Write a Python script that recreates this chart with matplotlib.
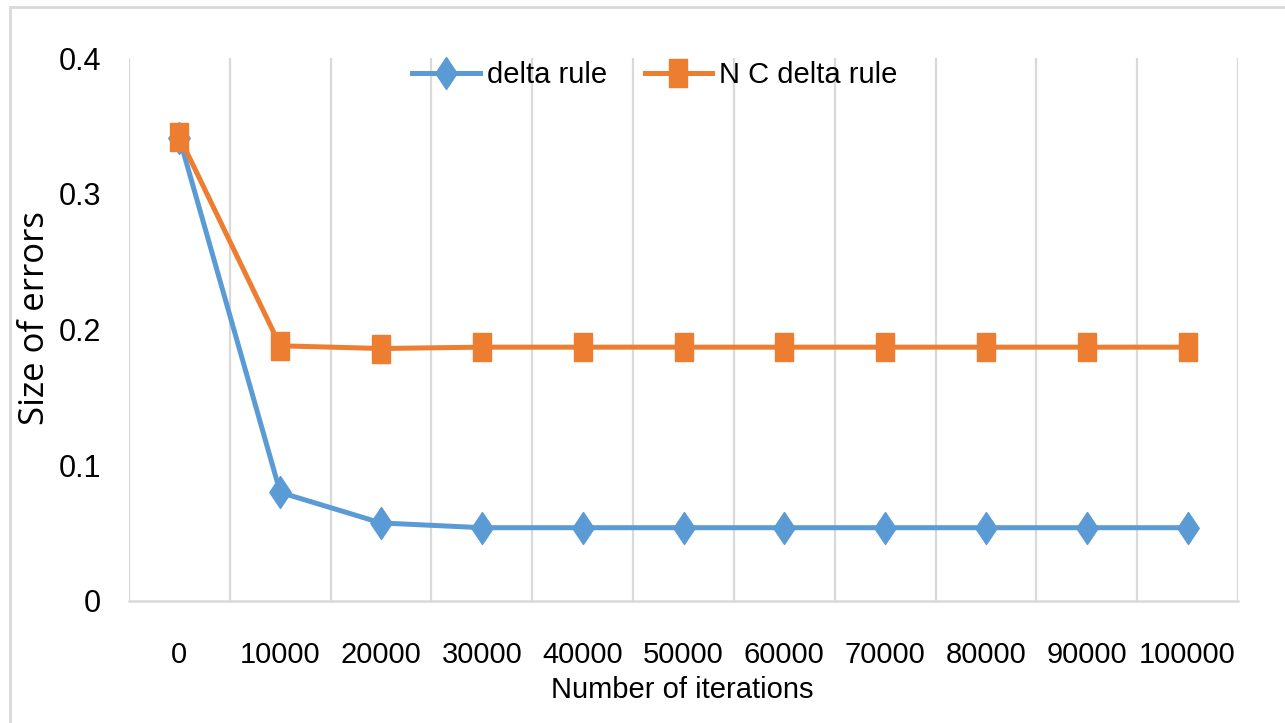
import matplotlib
matplotlib.use("Agg")
import matplotlib.pyplot as plt
from matplotlib.path import Path
from matplotlib.lines import Line2D

#----------------------------------------------------------------
# data:

iterations = ["0", "10000", "20000", "30000", "40000", "50000",
              "60000", "70000", "80000", "90000", "100000"]
delta_rule = [0.341, 0.080, 0.0575, 0.054, 0.054, 0.054,
              0.054, 0.054, 0.054, 0.054, 0.054]
nc_delta_rule = [0.342, 0.188, 0.186, 0.187, 0.187, 0.187,
                 0.187, 0.187, 0.187, 0.187, 0.187]
y_ticks = [0, 0.1, 0.2, 0.3, 0.4]
y_tick_labels = ["0", "0.1", "0.2", "0.3", "0.4"]

#----------------------------------------------------------------
# styles:

BLUE = "#5B9BD5"
ORANGE = "#ED7D31"
GRID = "#d9d9d9"
NARROW = ["Liberation Sans", "DejaVu Sans"]

# tall diamond and tall square, like the stretched Excel markers
tall_diamond = Path([(0, 1), (0.67, 0), (0, -1), (-0.67, 0), (0, 1)],
                    [Path.MOVETO, Path.LINETO, Path.LINETO, Path.LINETO, Path.CLOSEPOLY])
tall_square = Path([(-0.68, -1), (0.68, -1), (0.68, 1), (-0.68, 1), (-0.68, -1)],
                   [Path.MOVETO, Path.LINETO, Path.LINETO, Path.LINETO, Path.CLOSEPOLY])

#----------------------------------------------------------------
# figure:

fig = plt.figure(figsize=(12.85, 7.23), dpi=100)
ax = fig.add_axes([129 / 1285, 1 - 601 / 723, (1238 - 129) / 1285, (601 - 58) / 723])

x = list(range(len(iterations)))
ax.plot(x, delta_rule, color=BLUE, lw=3.6, marker=tall_diamond, ms=23,
        mec=BLUE, mfc=BLUE, label="delta rule", zorder=3)
ax.plot(x, nc_delta_rule, color=ORANGE, lw=3.6, marker=tall_square, ms=20,
        mec=ORANGE, mfc=ORANGE, label="N C delta rule", zorder=4)

ax.set_xlim(-0.5, len(iterations) - 0.5)
ax.set_ylim(0, 0.4)

# category labels in the middle, gridlines on the boundaries
ax.set_xticks(x)
ax.set_xticklabels(iterations, family=NARROW, fontsize=21)
ax.set_xticks([i - 0.5 for i in range(len(iterations) + 1)], minor=True)
ax.grid(which="minor", axis="x", color=GRID, lw=1.6)
ax.tick_params(axis="x", which="both", length=0, pad=29)

ax.set_yticks(y_ticks)
ax.set_yticklabels(y_tick_labels, family=NARROW, fontsize=22)
ax.tick_params(axis="y", length=0, pad=20)

for side in ["top", "right", "left"]:
    ax.spines[side].set_visible(False)
ax.spines["bottom"].set_color(GRID)
ax.spines["bottom"].set_linewidth(1.8)

leg = fig.legend(loc="center", bbox_to_anchor=(655 / 1285, 1 - 75 / 723), ncol=2,
                 frameon=False, handlelength=2.3, handletextpad=0.25, columnspacing=1.3,
                 prop={"family": NARROW, "size": 21})

fig.text(682 / 1285, 1 - 690 / 723, "Number of iterations", ha="center", va="center",
         family=NARROW, fontsize=21)
fig.text(35 / 1285, 1 - 318 / 723, "Size of errors", ha="center", va="center",
         rotation=90, family=["Open Sans", "DejaVu Sans"], fontsize=25)

# chart border (top and left edges visible in the crop)
fig.add_artist(Line2D([10 / 1285, 10 / 1285], [0, 1 - 7 / 723], color=GRID, lw=2,
                      transform=fig.transFigure))
fig.add_artist(Line2D([10 / 1285, 1], [1 - 7 / 723, 1 - 7 / 723], color=GRID, lw=2,
                      transform=fig.transFigure))

fig.savefig("out.png", dpi=100)
